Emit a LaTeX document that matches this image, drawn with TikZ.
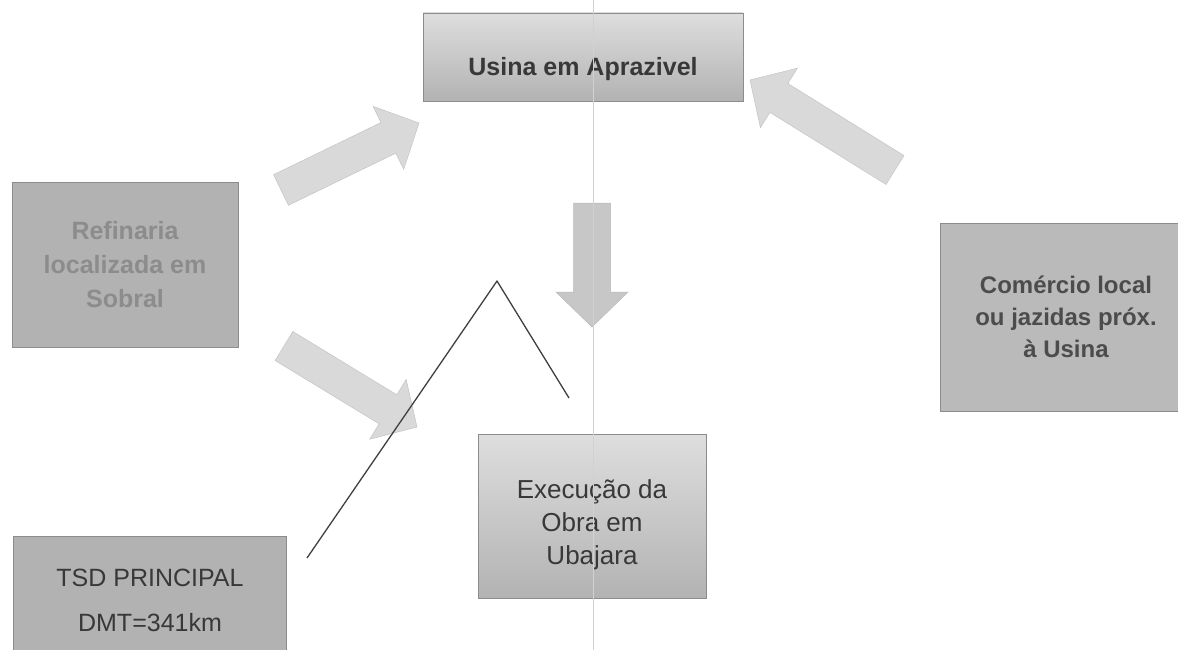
\documentclass[tikz,border=0pt]{standalone}
\usepackage{fontspec}
\setmainfont{Liberation Sans}
\usepackage{tikz}
\usetikzlibrary{calc}
\usetikzlibrary{positioning}

\definecolor{boxDark}{gray}{0.70}
\definecolor{boxMid}{gray}{0.73}
\definecolor{textDark}{gray}{0.22}
\definecolor{textPale}{gray}{0.55}
\definecolor{arrowFill}{gray}{0.85}
\definecolor{arrowEdge}{gray}{0.77}

% block arrow from a tail point to a tip point
\newcommand{\blockarrow}[3][]{%
  \path (#2) coordinate (ta) (#3) coordinate (tp)
    ($(tp)!\headlen!(ta)$) coordinate (hb);
  \filldraw[bigarrow,#1] ($(ta)!\shaftw!90:(tp)$) -- ($(hb)!\shaftw!-90:(ta)$)
    -- ($(hb)!\headw!-90:(ta)$) -- (tp) -- ($(hb)!\headw!90:(ta)$)
    -- ($(hb)!\shaftw!90:(ta)$) -- ($(ta)!\shaftw!-90:(tp)$) -- cycle;}

\begin{document}
\begin{tikzpicture}[x=1pt, y=-1pt,
box/.style = {rectangle, draw=black!45, line width=0.6pt, align=center, inner sep=0pt},
litebox/.style = {box, top color=black!13, bottom color=black!30},
darkbox/.style = {box, fill=boxDark},
boldtext/.style = {font=\bfseries\fontsize{25}{34}\selectfont},
plaintext/.style = {font=\fontsize{26}{33}\selectfont},
bigarrow/.style = {fill=arrowFill, draw=arrowEdge, line width=0.5pt},
chevron/.style = {draw=black!75, line width=1.3pt},
scanline/.style = {draw=black!18, line width=0.6pt}]
\def\shaftw{17pt}
\def\headw{35pt}
\def\headlen{34pt}
\clip (0,0) rectangle (1178,650);
\fill[white] (0,0) rectangle (1178,650);

\node[litebox, boldtext, text=textDark, minimum width=320, minimum height=88] (usina) at (583,57) {\raisebox{-19pt}[0pt][0pt]{Usina em Aprazivel}};
\node[darkbox, boldtext, text=textPale, minimum width=226, minimum height=165] (refinaria) at (125,265) {Refinaria\\localizada em\\Sobral};
\node[box, fill=boxMid, boldtext, text=textDark!90, font=\bfseries\fontsize{24}{32}\selectfont, minimum width=252, minimum height=188] (comercio) at (1066,317) {Comércio local\\ou jazidas próx.\\à Usina};
\node[litebox, plaintext, text=textDark, minimum width=228, minimum height=164] (execucao) at (592,516) {\raisebox{18pt}[0pt][0pt]{\begin{tabular}[t]{@{}c@{}}Execução da\\Obra em\\Ubajara\end{tabular}}};
\node[darkbox, plaintext, text=textDark, font=\fontsize{25}{45}\selectfont, minimum width=273, minimum height=128] (tsd) at (150,600) {TSD PRINCIPAL\\DMT=341km};

\coordinate (refUpTail) at (281,190);
\coordinate (refUpTip) at (419,123);
\coordinate (refDownTail) at (284,346);
\coordinate (refDownTip) at (417,427);
\coordinate (comTail) at (895,170);
\coordinate (comTip) at (750,80);
\coordinate (usinaTail) at (592,203);
\coordinate (usinaTip) at (592,327);

\blockarrow{refUpTail}{refUpTip}
\blockarrow{refDownTail}{refDownTip}
\blockarrow{comTail}{comTip}
\def\shaftw{18.5pt}
\def\headw{36pt}
\def\headlen{35pt}
\blockarrow[fill=black!22, draw=black!28]{usinaTail}{usinaTip}

\coordinate (lineA) at (307,558);
\coordinate (lineTop) at (497,281);
\coordinate (lineB) at (569,398);
\draw[chevron, line join=round] (lineA) -- (lineTop) -- (lineB);

\coordinate (scanTop) at (593,0);
\coordinate (scanBottom) at (593,650);
\draw[scanline] (scanTop) -- (scanBottom);

\end{tikzpicture}
\end{document}
